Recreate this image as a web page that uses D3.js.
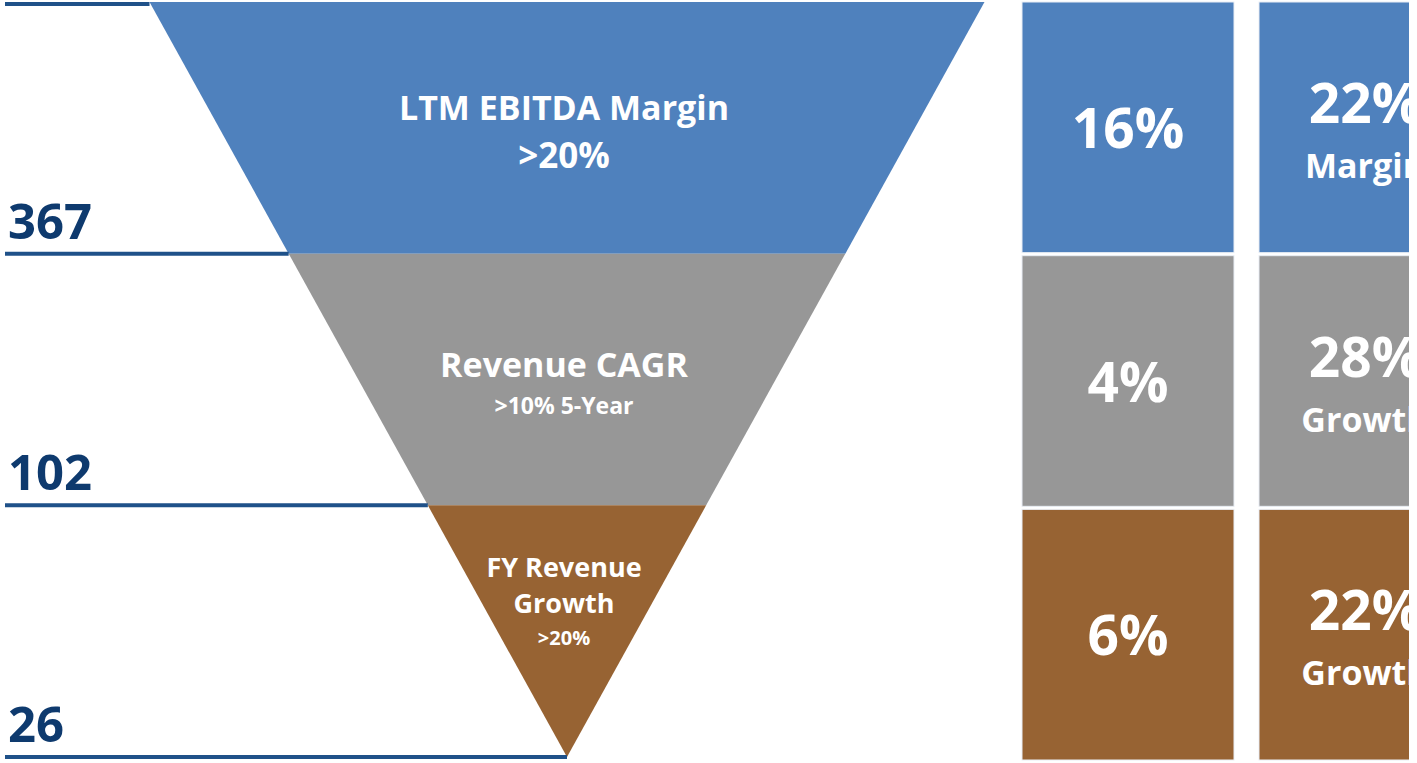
<!DOCTYPE html>
<html>
<head>
<meta charset="utf-8">
<script src="https://cdn.jsdelivr.net/npm/d3@7"></script>
<style>
  html, body { margin: 0; padding: 0; background: #ffffff; }
  svg { display: block; }
  text { font-family: "Open Sans", "Noto Sans", sans-serif; font-weight: 700; }
</style>
</head>
<body>
<svg id="chart" width="1417" height="763"></svg>
<script>
// ---------- data ----------
const stageNameLines = [["LTM EBITDA Margin"], ["Revenue CAGR"], ["FY Revenue", "Growth"]];
const stageCriteria = [">20%", ">10% 5-Year", ">20%"];
const companyCounts = [367, 102, 26];
const medianValues = [16, 4, 6];
const topValues = [22, 28, 22];
const topLabels = ["Margin", "Growth", "Growth"];
const columns = ["median", "top"];

// ---------- styles ----------
const stageColors = ["#4f81bd", "#979797", "#976333"];
const lineColor = "#1f5189";
const countColor = "#0e3a6e";
// per-stage text styling: name size, criteria size, baselines relative to stage top
const stageTextStyle = [
  { nameSize: 34, critSize: 35, nameY: [118], critY: 166 },
  { nameSize: 34, critSize: 23, nameY: [123], critY: 160 },
  { nameSize: 27, critSize: 20, nameY: [72, 108], critY: 140 }
];

const svg = d3.select("#chart");

// the original picture is cropped on the right side of the second column
svg.append("defs").append("clipPath").attr("id", "crop")
  .append("rect").attr("x", 0).attr("y", 0).attr("width", 1409).attr("height", 763);

// ---------- funnel scales ----------
const nStages = stageNameLines.length;
const yStage = d3.scaleLinear().domain([0, nStages]).range([2, 757]);
const funnelCx = 567;
const halfW = d3.scaleLinear().domain([0, nStages]).range([417.5, 0]);
const xLeft = lvl => funnelCx - halfW(lvl);
const xRight = lvl => funnelCx + halfW(lvl);

// ---------- funnel segments ----------
const gF = svg.append("g");
gF.selectAll("path.seg")
  .data(d3.range(nStages))
  .join("path")
  .attr("class", "seg")
  .attr("fill", i => stageColors[i])
  .attr("d", i => {
    const p = d3.path();
    p.moveTo(xLeft(i), yStage(i));
    p.lineTo(xRight(i), yStage(i));
    p.lineTo(xRight(i + 1), yStage(i + 1));
    p.lineTo(xLeft(i + 1), yStage(i + 1));
    p.closePath();
    return p.toString();
  });

// ---------- guide lines ----------
const lineLevels = d3.range(nStages + 1);
svg.append("g").selectAll("line")
  .data(lineLevels)
  .join("line")
  .attr("x1", 5)
  .attr("x2", l => xLeft(l))
  .attr("y1", l => yStage(l) + (l === 0 ? 2 : 0))
  .attr("y2", l => yStage(l) + (l === 0 ? 2 : 0))
  .attr("stroke", lineColor)
  .attr("stroke-width", 4);

// ---------- counts ----------
svg.append("g").selectAll("text")
  .data(companyCounts)
  .join("text")
  .attr("x", 8)
  .attr("y", (d, i) => yStage(i + 1) - 15)
  .attr("fill", countColor)
  .attr("font-size", 49)
  .text(d => d3.format("d")(d));

// ---------- funnel labels ----------
const gT = svg.append("g");
d3.range(nStages).forEach(i => {
  const st = stageTextStyle[i];
  const top = yStage(i);
  stageNameLines[i].forEach((ln, k) => {
    gT.append("text")
      .attr("x", funnelCx - 3)
      .attr("y", top + st.nameY[k])
      .attr("text-anchor", "middle")
      .attr("fill", "#ffffff")
      .attr("font-size", st.nameSize)
      .text(ln);
  });
  gT.append("text")
    .attr("x", funnelCx - 3)
    .attr("y", top + st.critY)
    .attr("text-anchor", "middle")
    .attr("fill", "#ffffff")
    .attr("font-size", st.critSize)
    .text(stageCriteria[i]);
});

// ---------- boxes ----------
const xCol = d3.scaleBand().domain(columns).range([1022, 1471]).paddingInner(0.1055);
const yRow = d3.scaleBand().domain(d3.range(nStages)).range([2, 760]).paddingInner(0.012);
const pct = d3.format("d");

const gB = svg.append("g").attr("clip-path", "url(#crop)");
columns.forEach(col => {
  gB.selectAll("rect." + col)
    .data(d3.range(nStages))
    .join("rect")
    .attr("class", col)
    .attr("x", xCol(col))
    .attr("y", i => yRow(i))
    .attr("width", xCol.bandwidth())
    .attr("height", yRow.bandwidth())
    .attr("fill", i => stageColors[i])
    .attr("stroke", "#e9eef5")
    .attr("stroke-width", 1);
});

// median column values
gB.selectAll("text.med")
  .data(medianValues)
  .join("text")
  .attr("class", "med")
  .attr("x", xCol("median") + xCol.bandwidth() / 2)
  .attr("y", (d, i) => yRow(i) + 146)
  .attr("text-anchor", "middle")
  .attr("fill", "#ffffff")
  .attr("font-size", 55)
  .text(d => pct(d) + "%");

// top column values + labels (cropped at the picture edge, as in the original)
gB.selectAll("text.top")
  .data(topValues)
  .join("text")
  .attr("class", "top")
  .attr("x", xCol("top") + xCol.bandwidth() / 2)
  .attr("y", (d, i) => yRow(i) + 121)
  .attr("text-anchor", "middle")
  .attr("fill", "#ffffff")
  .attr("font-size", 55)
  .text(d => pct(d) + "%");

gB.selectAll("text.toplab")
  .data(topLabels)
  .join("text")
  .attr("class", "toplab")
  .attr("x", xCol("top") + xCol.bandwidth() / 2)
  .attr("y", (d, i) => yRow(i) + 176)
  .attr("text-anchor", "middle")
  .attr("fill", "#ffffff")
  .attr("font-size", 34)
  .text(d => d);
</script>
</body>
</html>
